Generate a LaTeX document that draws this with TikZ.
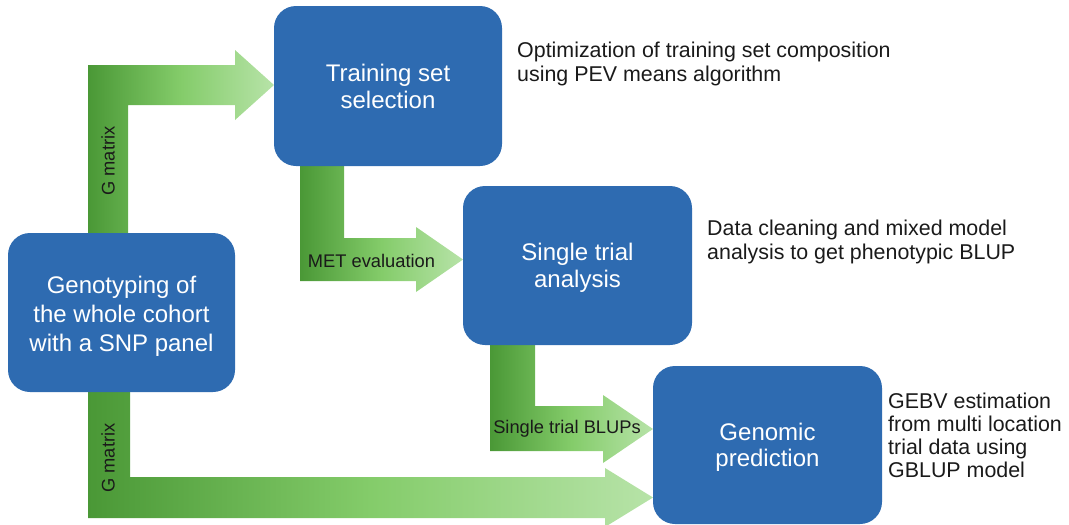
\documentclass[tikz,border=0pt]{standalone}
\usepackage{fontspec}
\setmainfont{Liberation Sans}
\definecolor{boxblue}{RGB}{46,107,177}
\definecolor{gdark}{RGB}{74,152,54}
\definecolor{gmid}{RGB}{132,204,106}
\definecolor{glight}{RGB}{183,227,168}
\definecolor{txt}{RGB}{26,26,26}
\newcommand{\boxtext}[2]{\raisebox{#1}[\height][\depth]{\parbox{215pt}{\centering #2}}}
\tikzset{
  box/.style={fill=boxblue, draw=none, rounded corners=22pt, text=white, align=center,
    inner sep=0pt, font=\fontsize{24}{26.5}\selectfont},
  fat/.style={draw=none, left color=gdark, right color=glight, middle color=gmid},
  lbl/.style={text=txt, font=\fontsize{18.3}{20}\selectfont, inner sep=0pt},
  note/.style={text=txt, align=left, anchor=north west, inner sep=0pt, font=\fontsize{21.4}{24}\selectfont}
}
\begin{document}
\begin{tikzpicture}[x=1pt,y=-1pt]
\useasboundingbox (0,0) rectangle (1069,525);
\path (121.5,312.5) coordinate (c1);
\path (388,86) coordinate (c2);
\path (577.5,265.5) coordinate (c3);
\path (767.5,445) coordinate (c4);
% fat arrows
\path[fat] (88,240) -- (88,65) -- (235,65) -- (235,50) -- (274,85) -- (235,120) -- (235,105) -- (128,105) -- (128,240) -- cycle;
\path[fat] (300,160) -- (300,281) -- (416,281) -- (416,292) -- (463,259.5) -- (416,227) -- (416,238) -- (344,238) -- (344,160) -- cycle;
\path[fat] (490,340) -- (490,451) -- (603,451) -- (603,463) -- (653,429) -- (603,395) -- (603,406) -- (535,406) -- (535,340) -- cycle;
\path[fat] (88,385) -- (88,518) -- (605,518) -- (605,527) -- (653,497.5) -- (605,468) -- (605,477) -- (130,477) -- (130,385) -- cycle;
% boxes
\node[box, minimum width=227pt, minimum height=159pt, font=\fontsize{24}{29}\selectfont] (b1) at (c1) {\boxtext{-3.5pt}{Genotyping of\\the whole cohort\\with a SNP panel}};
\node[box, minimum width=228pt, minimum height=160pt] (b2) at (c2) {\boxtext{-0.5pt}{Training set\\selection}};
\node[box, minimum width=229pt, minimum height=159pt] (b3) at (c3) {\boxtext{-2.5pt}{Single trial\\analysis}};
\node[box, minimum width=229pt, minimum height=158pt] (b4) at (c4) {\boxtext{-2.5pt}{Genomic\\prediction}};
% arrow labels
\node[lbl, rotate=90] (l1) at (108,161) {G matrix};
\node[lbl, rotate=90] (l2) at (108,458) {G matrix};
\node[lbl] (l3) at (371.5,261) {MET evaluation};
\node[lbl] (l4) at (567,429) {Single trial BLUPs};
% notes
\node[note] (n1) at (517,42) {Optimization of training set composition\\using PEV means algorithm};
\node[note] (n2) at (707,220) {Data cleaning and mixed model\\analysis to get phenotypic BLUP};
\node[note, font=\fontsize{21.4}{23}\selectfont] (n3) at (888,393) {GEBV estimation\\from multi location\\trial data using\\GBLUP model};
\end{tikzpicture}
\end{document}
